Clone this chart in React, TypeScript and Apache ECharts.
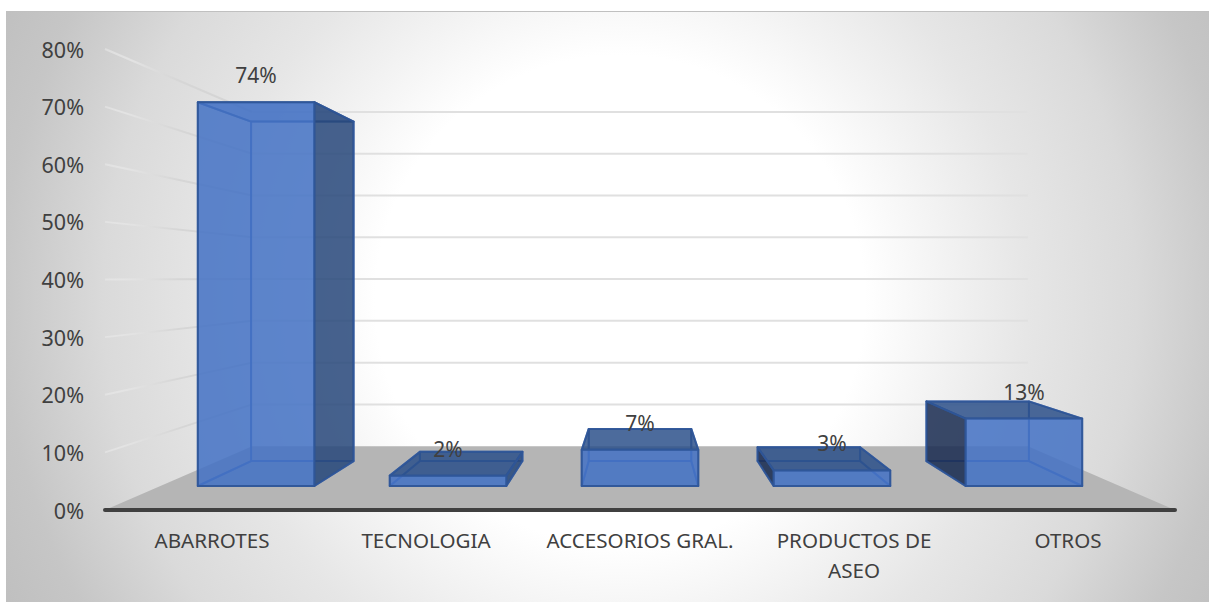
import React, { useEffect, useRef } from "react";
import * as echarts from "echarts";

const categories = ["ABARROTES", "TECNOLOGIA", "ACCESORIOS GRAL.", "PRODUCTOS DE\nASEO", "OTROS"];
const shares = [74, 2, 7, 3, 13];
const wallTicks = [10, 20, 30, 40, 50, 60, 70, 80];

// Perspective of the box: everything recedes toward one vanishing point.
const VP = { x: 640, y: 278 };
const WALL_DEPTH = 0.725;
const BAR_VP_Y = 270;
const BAR_FRONT = { sx: 0.897, sy: 0.9 };
const BAR_BACK = { sx: 0.789, sy: 0.796 };
const BAR_WIDTH_RATIO = 0.607;

const FRONT_FILL = "rgba(68,114,196,0.85)";
const INNER_FILL = "rgba(68,114,196,0.06)";
const DARK_SIDE = "rgba(40,72,122,0.85)";
const DARKER_SIDE = "rgba(26,44,80,0.85)";
const DARK_TOP = "rgba(42,78,136,0.83)";
const OUTER_EDGE = "rgba(47,85,151,0.9)";
const INNER_EDGE = "rgba(56,100,180,0.75)";
const GRID_LINE = "#e0e0e0";
const TEXT = "#404040";
const FONT = "'Noto Sans', sans-serif";

function project(x: number, y: number, d: { sx: number; sy: number }) {
  return [VP.x + d.sx * (x - VP.x), BAR_VP_Y + d.sy * (y - BAR_VP_Y)];
}

function wall(x: number, y: number) {
  return [VP.x + WALL_DEPTH * (x - VP.x), VP.y + WALL_DEPTH * (y - VP.y)];
}

function renderBar(params: any, api: any) {
  const idx = api.value(0);
  const val = api.value(1);
  const [cx, top] = api.coord([idx, val]);
  const [, base] = api.coord([idx, 0]);
  const half = (api.size([1, 0])[0] * BAR_WIDTH_RATIO) / 2;
  const l = cx - half;
  const r = cx + half;

  const fbl = project(l, base, BAR_FRONT);
  const fbr = project(r, base, BAR_FRONT);
  const ftl = project(l, top, BAR_FRONT);
  const ftr = project(r, top, BAR_FRONT);
  const bbl = project(l, base, BAR_BACK);
  const bbr = project(r, base, BAR_BACK);
  const btl = project(l, top, BAR_BACK);
  const btr = project(r, top, BAR_BACK);

  const face = (points: number[][], fill: string, stroke: string, width = 2) => ({
    type: "polygon",
    shape: { points },
    style: { fill, stroke, lineWidth: width, lineJoin: "round" },
  });

  const rightOuter = btr[0] > ftr[0];
  const leftOuter = btl[0] < ftl[0];
  const topOuter = btl[1] < ftl[1];

  const inner: any[] = [];
  const outer: any[] = [];
  inner.push(face([bbl, bbr, fbr, fbl], "rgba(68,114,196,0.15)", INNER_EDGE));
  inner.push(face([btl, btr, bbr, bbl], INNER_FILL, INNER_EDGE));
  const left = [ftl, btl, bbl, fbl];
  const right = [ftr, btr, bbr, fbr];
  const lid = [ftl, ftr, btr, btl];
  (leftOuter ? outer : inner).push(
    leftOuter ? face(left, DARKER_SIDE, OUTER_EDGE) : face(left, INNER_FILL, INNER_EDGE)
  );
  (rightOuter ? outer : inner).push(
    rightOuter ? face(right, DARK_SIDE, OUTER_EDGE) : face(right, INNER_FILL, INNER_EDGE)
  );
  (topOuter ? outer : inner).push(
    topOuter ? face(lid, DARK_TOP, OUTER_EDGE) : face(lid, "rgba(68,114,196,0.3)", OUTER_EDGE)
  );

  return {
    type: "group",
    children: [
      ...inner,
      ...outer,
      face([ftl, ftr, fbr, fbl], FRONT_FILL, OUTER_EDGE),
      {
        type: "text",
        x: (fbl[0] + fbr[0]) / 2,
        y: ftl[1] - 27,
        style: {
          text: `${val}%`,
          fill: TEXT,
          font: `21px ${FONT}`,
          align: "center",
          verticalAlign: "middle",
        },
      },
    ],
  };
}

function renderFloor(params: any) {
  const c = params.coordSys;
  const bottom = c.y + c.height;
  const xr = c.x + c.width;
  return {
    type: "polygon",
    shape: { points: [[c.x, bottom], wall(c.x, bottom), wall(xr, bottom), [xr, bottom]] },
    style: { fill: "#b5b5b5" },
  };
}

function renderWallLine(params: any, api: any) {
  const c = params.coordSys;
  const xr = c.x + c.width;
  const [, y] = api.coord([0, api.value(0)]);
  const a = wall(c.x, y);
  const b = wall(xr, y);
  // The side-wall rule fades out as it comes toward the viewer.
  const sideStroke = {
    type: "linear",
    global: true,
    x: c.x,
    y,
    x2: a[0],
    y2: a[1],
    colorStops: [
      { offset: 0, color: "rgba(235,235,235,0.5)" },
      { offset: 0.2, color: "#e2e2e2" },
      { offset: 0.5, color: "#d6d6d6" },
      { offset: 1, color: "#d4d4d4" },
    ],
  };
  return {
    type: "group",
    children: [
      {
        type: "line",
        shape: { x1: c.x, y1: y, x2: a[0], y2: a[1] },
        style: { stroke: sideStroke, lineWidth: 2 },
      },
      {
        type: "line",
        shape: { x1: a[0], y1: a[1], x2: b[0], y2: b[1] },
        style: { stroke: GRID_LINE, lineWidth: 2 },
      },
    ],
  };
}

export default function App() {
  const ref = useRef<HTMLDivElement>(null);
  useEffect(() => {
    document.body.style.margin = "0";
    const chart = echarts.init(ref.current!, null, { renderer: "svg" });
    chart.setOption({
      animation: false,
      backgroundColor: "#ffffff",
      graphic: [
        {
          type: "rect",
          z: -10,
          silent: true,
          shape: { x: 6, y: 11, width: 1203, height: 591 },
          style: {
            fill: {
              type: "radial",
              global: true,
              x: 620,
              y: 300,
              r: 680,
              colorStops: [
                { offset: 0, color: "#ffffff" },
                { offset: 0.36, color: "#ffffff" },
                { offset: 0.6, color: "#e6e6e6" },
                { offset: 0.76, color: "#dadada" },
                { offset: 0.91, color: "#c6c6c6" },
                { offset: 1, color: "#c0c0c0" },
              ],
            },
          },
        },
        {
          type: "line",
          z: -9,
          silent: true,
          shape: { x1: 6, y1: 11.5, x2: 1209, y2: 11.5 },
          style: { stroke: "#c0c0c0", lineWidth: 1 },
        },
      ],
      grid: { left: 105, right: 34, top: 49, bottom: 92, containLabel: false },
      xAxis: {
        type: "category",
        data: categories,
        z: 6,
        axisTick: { show: false },
        axisLine: { lineStyle: { color: TEXT, width: 4, cap: "round" } },
        axisLabel: {
          color: TEXT,
          fontFamily: "Noto Sans",
          fontSize: 20.6,
          lineHeight: 30,
          margin: 15,
          interval: 0,
        },
      },
      yAxis: {
        type: "value",
        min: 0,
        max: 80,
        interval: 10,
        axisLine: { show: false },
        axisTick: { show: false },
        splitLine: { show: false },
        axisLabel: {
          color: TEXT,
          fontFamily: "Noto Sans",
          fontSize: 21.5,
          margin: 21,
          formatter: "{value}%",
        },
      },
      series: [
        {
          type: "custom",
          name: "suelo",
          z: 1,
          silent: true,
          coordinateSystem: "cartesian2d",
          renderItem: renderFloor,
          data: [[0, 0]],
          encode: { x: 0, y: 1 },
        },
        {
          type: "custom",
          name: "rejilla",
          z: 2,
          silent: true,
          coordinateSystem: "cartesian2d",
          renderItem: renderWallLine,
          data: wallTicks.map((t) => [t]),
          encode: { y: 0 },
        },
        {
          type: "custom",
          name: "participacion",
          z: 3,
          coordinateSystem: "cartesian2d",
          renderItem: renderBar,
          data: shares.map((v, i) => [i, v]),
          encode: { x: 0, y: 1 },
        },
      ],
    });
    return () => chart.dispose();
  }, []);
  return <div ref={ref} style={{ width: 1209, height: 602 }} />;
}
